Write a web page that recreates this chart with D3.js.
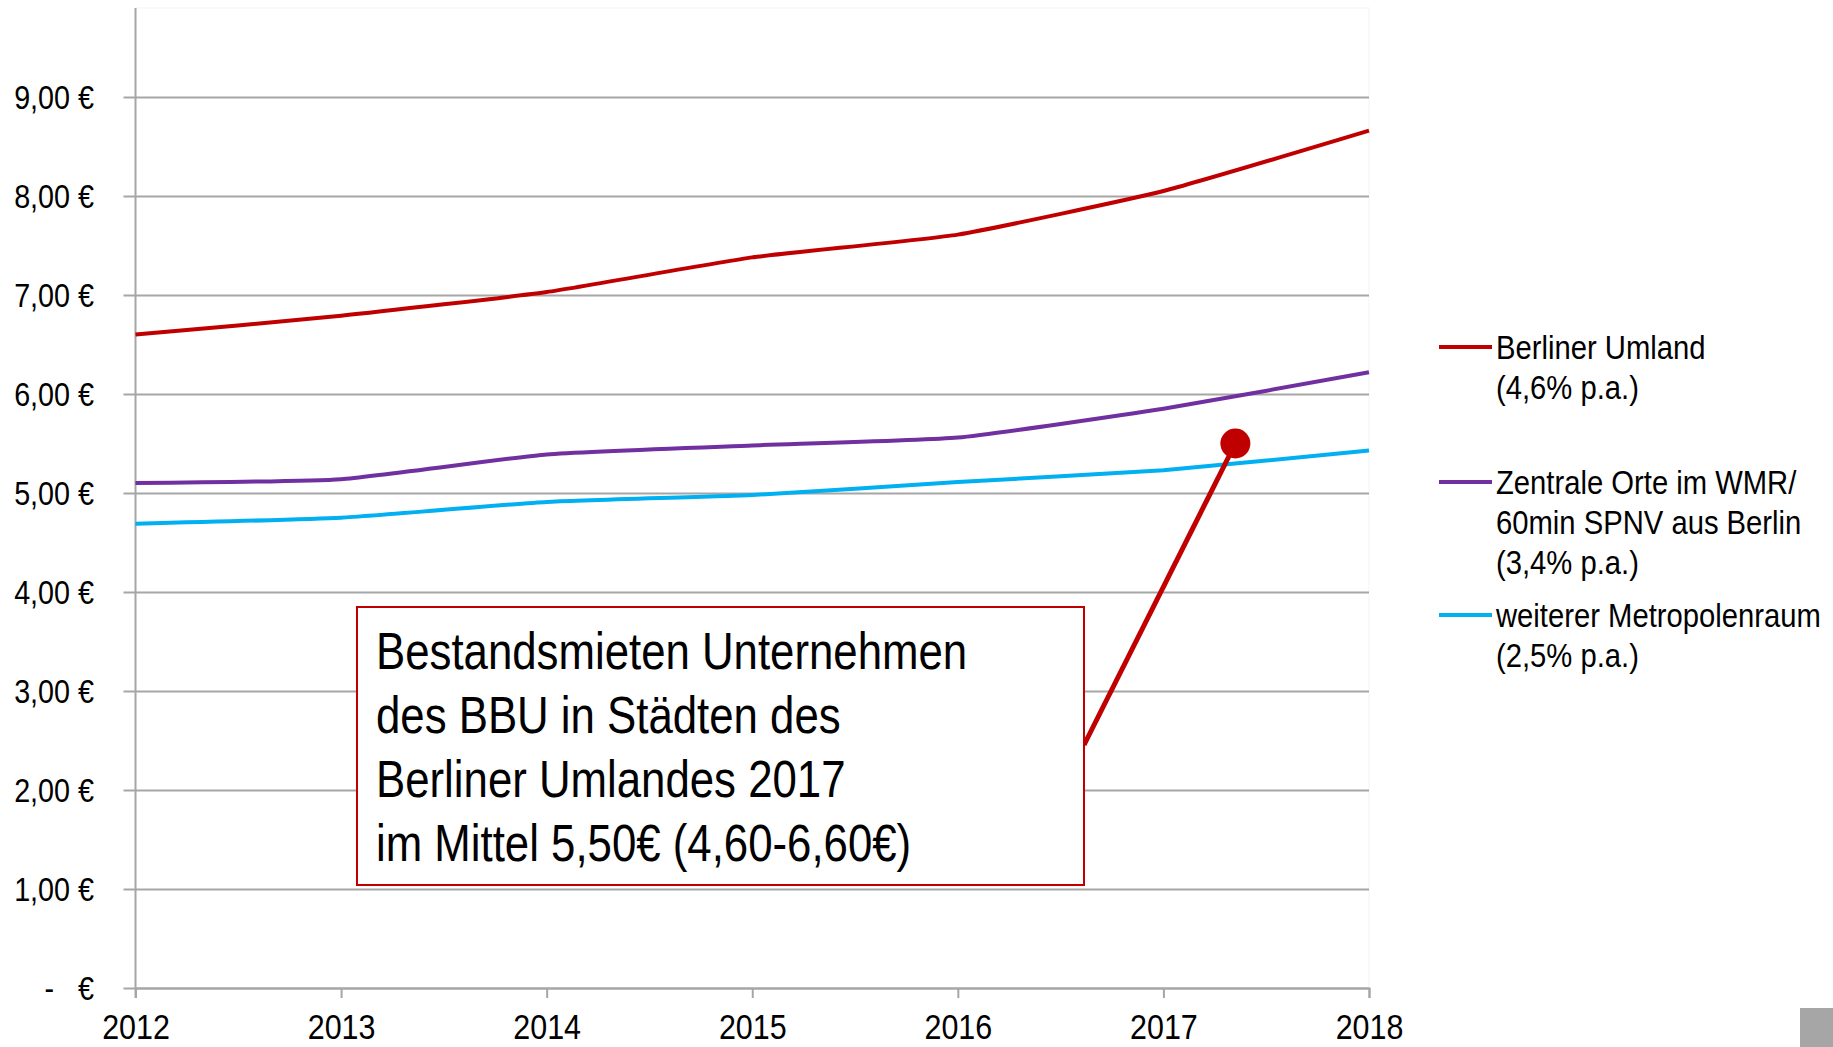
<!DOCTYPE html>
<html><head><meta charset="utf-8">
<script src="https://cdn.jsdelivr.net/npm/d3@7"></script>
<style>
html,body{margin:0;padding:0;background:#fff;}
svg{display:block;}
text{font-family:'Liberation Sans','Arial',sans-serif;fill:#000;}
</style></head>
<body>
<svg id="c" width="1833" height="1047"></svg>
<script>
const years = [2012, 2013, 2014, 2015, 2016, 2017, 2018];
const berlinerUmland = [6.60, 6.79, 7.03, 7.38, 7.61, 8.05, 8.66];
const zentraleOrte = [5.10, 5.14, 5.39, 5.48, 5.56, 5.85, 6.22];
const weitererRaum = [4.69, 4.75, 4.91, 4.98, 5.11, 5.23, 5.43];
const seriesNames = [["Berliner Umland", "(4,6% p.a.)"],
                     ["Zentrale Orte im WMR/", "60min SPNV aus Berlin", "(3,4% p.a.)"],
                     ["weiterer Metropolenraum", "(2,5% p.a.)"]];
const yTicks = [0, 1, 2, 3, 4, 5, 6, 7, 8, 9];
const yTickLabels = ["-   €", "1,00 €", "2,00 €", "3,00 €", "4,00 €", "5,00 €", "6,00 €", "7,00 €", "8,00 €", "9,00 €"];
const annotationLines = ["Bestandsmieten Unternehmen", "des BBU in Städten des", "Berliner Umlandes 2017", "im Mittel 5,50€ (4,60-6,60€)"];
const annotationPoint = {year: 2017.35, value: 5.50};

const colors = ["#c00000", "#7030a0", "#00b0f0"];
const series = [berlinerUmland, zentraleOrte, weitererRaum];

const svg = d3.select("#c");
const x = d3.scaleLinear().domain([2012, 2018]).range([135.5, 1369]);
const y = d3.scaleLinear().domain([0, 9]).range([988, 97]);
const plotTop = 8;

svg.append("rect").attr("x", x(2012)).attr("y", plotTop).attr("width", x(2018) - x(2012)).attr("height", y(0) - plotTop)
  .attr("fill", "none").attr("stroke", "#f3f3f3").attr("stroke-width", 1);

// gridlines + y axis
const yAxis = d3.axisLeft(y).tickValues(yTicks).tickSize(x(2018) - x(2012) + 12).tickFormat((d, i) => yTickLabels[i]);
const gy = svg.append("g").attr("transform", `translate(${x(2018)},0)`).call(yAxis);
gy.select(".domain").remove();
gy.selectAll(".tick line").attr("stroke", "#a6a6a6").attr("stroke-width", 2);
gy.selectAll(".tick text").attr("font-size", 34).attr("x", -(x(2018) - 94)).attr("dy", "0.35em")
  .style("white-space", "pre").attr("text-anchor", "end").attr("data-n", 0.845);

svg.append("line").attr("x1", x(2012)).attr("x2", x(2012)).attr("y1", plotTop).attr("y2", y(0) + 10)
  .attr("stroke", "#a6a6a6").attr("stroke-width", 2);

// x axis
const xAxis = d3.axisBottom(x).tickValues(years).tickFormat(d3.format("d")).tickSize(10).tickPadding(16);
const gx = svg.append("g").attr("transform", `translate(0,${y(0)})`).call(xAxis);
gx.select(".domain").attr("stroke", "#a6a6a6").attr("stroke-width", 2);
gx.selectAll(".tick line").attr("stroke", "#a6a6a6").attr("stroke-width", 2);
gx.selectAll(".tick text").attr("font-size", 35).attr("data-n", 0.87);

// series lines
const line = d3.line().x((d, i) => x(years[i])).y(d => y(d)).curve(d3.curveCardinal.tension(0.55));
series.forEach((s, k) => {
  svg.append("path").datum(s).attr("d", line).attr("fill", "none")
    .attr("stroke", colors[k]).attr("stroke-width", 4).attr("stroke-linejoin", "round");
});

// legend
const legendTop = [347, 482, 615];
seriesNames.forEach((lines, k) => {
  const g = svg.append("g");
  g.append("line").attr("x1", 1439).attr("x2", 1492).attr("y1", legendTop[k]).attr("y2", legendTop[k])
    .attr("stroke", colors[k]).attr("stroke-width", 4);
  lines.forEach((t, j) => {
    g.append("text").attr("x", 1496).attr("y", legendTop[k] + 12 + j * 40).attr("font-size", 34)
      .attr("data-n", 0.86).text(t);
  });
});

// annotation
const boxL = 357, boxR = 1084, boxT = 607, boxB = 885;
svg.append("line").attr("x1", boxR).attr("y1", 745)
  .attr("x2", x(annotationPoint.year)).attr("y2", y(annotationPoint.value))
  .attr("stroke", "#c00000").attr("stroke-width", 5);
svg.append("circle").attr("cx", x(annotationPoint.year)).attr("cy", y(annotationPoint.value)).attr("r", 15)
  .attr("fill", "#c00000");
svg.append("rect").attr("x", boxL).attr("y", boxT).attr("width", boxR - boxL).attr("height", boxB - boxT)
  .attr("fill", "#fff").attr("stroke", "#c00000").attr("stroke-width", 2);
annotationLines.forEach((t, j) => {
  svg.append("text").attr("x", 376).attr("y", 669 + j * 64).attr("font-size", 52).attr("data-n", 0.842).text(t);
});

svg.append("rect").attr("x", 1800).attr("y", 1008).attr("width", 33).attr("height", 39).attr("fill", "#a6a6a6");

// condense text horizontally (narrow font look)
svg.selectAll("text").each(function() {
  const t = d3.select(this);
  const n = +(t.attr("data-n") || 0.85);
  const tx = +(t.attr("x") || 0);
  t.attr("x", tx / n);
  const tr = t.attr("transform") || "";
  t.attr("transform", (tr + ` scale(${n},1)`).trim());
});
</script>
</body></html>
